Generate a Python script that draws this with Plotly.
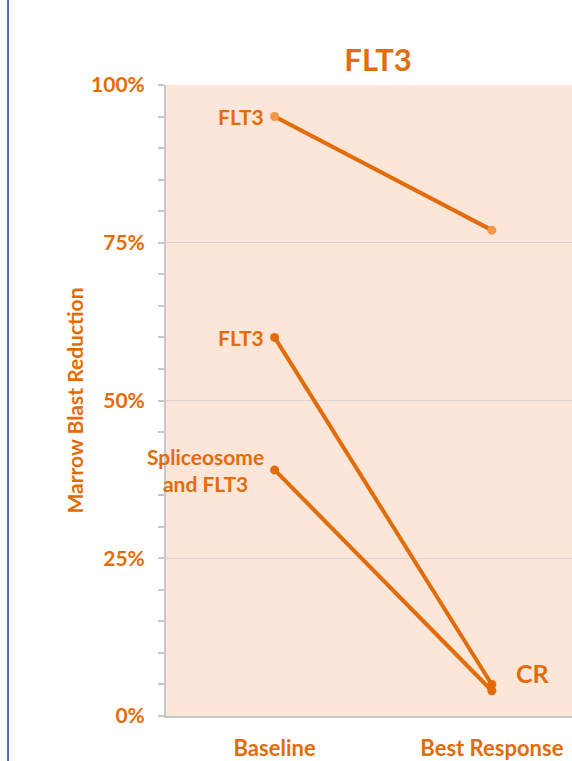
import plotly.graph_objects as go

categories = ["Baseline", "Best Response"]
series_values = [
    [0.95, 0.77],
    [0.60, 0.05],
    [0.39, 0.04],
]
series_labels = ["FLT3", "FLT3", "Spliceosome<br>and FLT3"]
marker_colors = ["#F4964A", "#E36C0A", "#E36C0A"]
tick_vals = [0, 0.25, 0.5, 0.75, 1.0]
tick_text = ["<b>%d%%</b>" % round(v * 100) for v in tick_vals]
end_label = "CR"

ORANGE = "#E36C0A"
FONT = "Lato"

fig = go.Figure()
for vals, mc in zip(series_values, marker_colors):
    fig.add_trace(go.Scatter(
        x=[0, 1], y=vals, mode="lines+markers",
        line=dict(color=ORANGE, width=4),
        marker=dict(color=mc, size=9),
        showlegend=False, hoverinfo="skip",
    ))

for vals, lab in zip(series_values, series_labels):
    fig.add_annotation(x=0, y=vals[0], text="<b>%s</b>" % lab, showarrow=False,
                       xanchor="right", xshift=-9, align="center",
                       font=dict(family=FONT, size=21, color=ORANGE))

fig.add_annotation(x=1, y=(series_values[1][1] + series_values[2][1]) / 2,
                   text="<b>%s</b>" % end_label, showarrow=False,
                   xanchor="left", xshift=22, yshift=15,
                   font=dict(family=FONT, size=25, color=ORANGE))

# left border line
fig.add_shape(type="line", xref="paper", yref="paper",
              x0=-0.389, x1=-0.389, y0=-0.08, y1=1.14,
              line=dict(color="#4472C4", width=2))

fig.update_layout(
    width=572, height=761,
    margin=dict(l=166, r=0, t=85, b=45, autoexpand=False),
    paper_bgcolor="white", plot_bgcolor="#FBE6D8",
    title=dict(text="<b>FLT3</b>", x=0.661, xanchor="center", y=0.921, yanchor="middle",
               font=dict(family=FONT, size=31, color=ORANGE)),
    xaxis=dict(tickmode="array", tickvals=[0, 1], ticktext=["<b>%s</b>" % c for c in categories],
               range=[-0.5, 1.369], showgrid=False, zeroline=False, automargin=False,
               showline=True, linecolor="#C8C8C8", linewidth=2,
               tickfont=dict(family=FONT, size=22, color=ORANGE), ticks="", ticklabelstandoff=12),
    yaxis=dict(range=[0, 1], tickvals=tick_vals, ticktext=tick_text, automargin=False,
               tickfont=dict(family=FONT, size=21, color=ORANGE),
               showgrid=True, gridcolor="#D6D6D6", gridwidth=1, zeroline=False,
               showline=True, linecolor="#C8C8C8", linewidth=2,
               ticks="outside", ticklen=6, tickcolor="#C8C8C8", tickwidth=2, ticklabelstandoff=9,
               minor=dict(dtick=0.05, ticks="outside", ticklen=6, tickcolor="#C8C8C8", tickwidth=2, showgrid=False),
               title=dict(text="<b>Marrow Blast Reduction</b>", standoff=2,
                          font=dict(family=FONT, size=21, color=ORANGE))),
)

fig.write_html("out.html", config={"displayModeBar": False},
               post_script="document.body.style.margin='0';document.body.style.padding='0';")
